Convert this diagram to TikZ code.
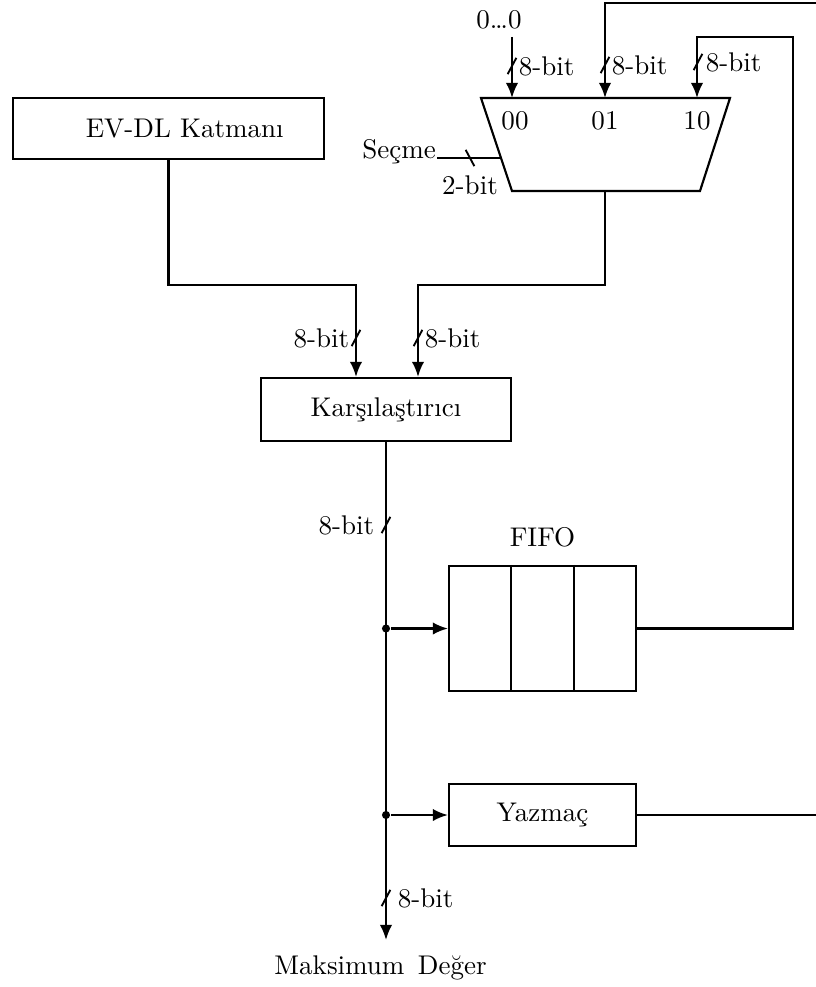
\documentclass[tikz,border=0pt]{standalone}
\usepackage{fontspec}
\usetikzlibrary{shapes.geometric, arrows.meta, positioning, calc}

\begin{document}
\begin{tikzpicture}[x=0.37pt, y=-0.37pt, line width=0.8pt,
    box/.style={draw, rectangle, align=center, inner sep=0pt},
    wire/.style={-{Latex[length=5.6pt,width=4.6pt]}},
    dot/.style={circle, fill, inner sep=0pt, minimum size=3pt},
    lbl/.style={inner sep=1pt},
    busmark/.pic={\draw[line width=0.7pt] (-1.6pt,-3pt) -- (1.6pt,3pt);},
    busmarkh/.pic={\draw[line width=0.7pt] (-1.6pt,3pt) -- (1.6pt,-3pt);}]

  \useasboundingbox (0,0) rectangle (815,987);

  % blocks
  \node[box, minimum width=115pt, minimum height=22.6pt] (evdl) at (168.5,128.5) {\hspace*{12pt}EV-DL Katmanı};
  \node[box, minimum width=92.5pt, minimum height=23.3pt] (karsi) at (386,409.5) {Karşılaştırıcı};
  \node[box, minimum width=69.2pt, minimum height=46.3pt] (fifo) at (542.5,628.5) {};
  \node[above=3pt of fifo] (fifolbl) {FIFO};
  \node[box, minimum width=69.2pt, minimum height=22.9pt] (yaz) at (542.5,815) {Yazmaç};

  % mux
  \draw (481,98) coordinate (mtl) -- (730,98) coordinate (mtr)
     -- (700,191) coordinate (mbr) -- (512,191) coordinate (mbl) -- cycle;
  \coordinate (muxtop) at (605,98);
  \coordinate (muxbot) at (605,191);

  % FIFO cells
  \foreach \f in {1/3, 2/3}
    \draw ($(fifo.north west)!\f!(fifo.north east)$) -- ($(fifo.south west)!\f!(fifo.south east)$);

  % mux inputs
  \node (in00) at (515,121) {00};
  \node (in01) at (605,121) {01};
  \node (in10) at (697,121) {10};
  \node (zero) at (499,20) {0\ldots0};
  \coordinate (z0) at (512,37);
  \draw[wire] (z0) -- (z0 |- muxtop);
  \path (512,66) pic {busmark} node[lbl, anchor=west] at (515,66) {8-bit};
  \path (605,65) pic {busmark} node[lbl, anchor=west] at (608,65) {8-bit};
  \path (698,62) pic {busmark} node[lbl, anchor=west] at (702,62) {8-bit};

  % select
  \node[anchor=base east, inner sep=0pt] (sec) at (437,158) {Seçme};
  \coordinate (selin) at (501,158);
  \draw (sec.base east) -- (selin);
  \path (470,158) pic {busmarkh};
  \node[lbl, anchor=north] (selbit) at (470,172) {2-bit};

  % into comparator
  \coordinate (k1) at (356,285);
  \coordinate (k2) at (418,285);
  \draw[wire] (evdl.south) |- (k1) -- (k1 |- karsi.north);
  \draw[wire] (muxbot) |- (k2) -- (k2 |- karsi.north);
  \path (356,338) pic {busmark} node[lbl, anchor=east] at (353,338) {8-bit};
  \path (418,338) pic {busmark} node[lbl, anchor=west] at (421,338) {8-bit};

  % comparator output
  \coordinate (out) at (karsi.south |- 0,940);
  \draw[wire] (karsi.south) -- (out);
  \node[below=2pt of out, xshift=-2pt] (maks) {Maksimum\hspace{5pt}Değer};
  \path (386,525) pic {busmark} node[lbl, anchor=east] at (378,525) {8-bit};
  \path (386,898) pic {busmark} node[lbl, anchor=west] at (394,898) {8-bit};

  \node[dot] (br1) at (karsi.south |- fifo.west) {};
  \node[dot] (br2) at (karsi.south |- yaz.west) {};
  \draw[wire] (br1) -- (fifo.west);
  \draw[wire] (br2) -- (yaz.west);

  % feedback
  \coordinate (fb1) at (793,37);
  \coordinate (fb2) at (818,3);
  \draw[wire] (fifo.east) -| (fb1) -| (in10 |- muxtop);
  \draw[wire] (yaz.east) -| (fb2) -| (in01 |- muxtop);
\end{tikzpicture}
\end{document}
